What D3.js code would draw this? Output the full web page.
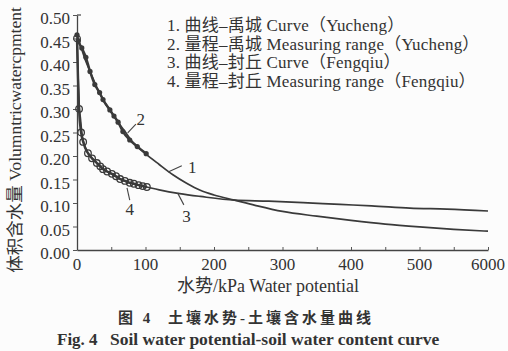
<!DOCTYPE html>
<html>
<head>
<meta charset="utf-8">
<script src="https://cdn.jsdelivr.net/npm/d3@7"></script>
<style>
  body { margin: 0; background: #fcfcfc; }
</style>
</head>
<body>
<div id="chart_container"></div>
<script>
// values
const curve1_x = [0, 5, 12, 20, 30, 40, 50, 60, 70, 80, 90, 100, 120, 140, 160, 180, 200, 230, 260, 300, 350, 400, 450, 500, 550, 600];
const curve1_y = [0.455, 0.435, 0.405, 0.377, 0.342, 0.315, 0.293, 0.272, 0.252, 0.232, 0.218, 0.205, 0.182, 0.160, 0.142, 0.127, 0.117, 0.106, 0.095, 0.082, 0.072, 0.063, 0.055, 0.049, 0.044, 0.040];

const range1_x = [0, 2, 7, 13, 19, 26, 33, 38, 48, 54, 60, 67, 77, 88, 101];
const range1_y = [0.458, 0.445, 0.430, 0.410, 0.380, 0.352, 0.335, 0.320, 0.298, 0.285, 0.272, 0.252, 0.234, 0.220, 0.205];

const curve3_x = [0, 1, 2, 3, 5, 7, 10, 16, 22, 29, 38, 50, 63, 77, 90, 102, 120, 150, 180, 230, 280, 330, 384, 430, 486, 540, 600];
const curve3_y = [0.450, 0.400, 0.350, 0.310, 0.280, 0.250, 0.228, 0.206, 0.195, 0.185, 0.172, 0.162, 0.151, 0.143, 0.138, 0.134, 0.128, 0.120, 0.114, 0.106, 0.104, 0.101, 0.097, 0.094, 0.089, 0.087, 0.083];

const range3_x = [0, 3, 6, 9, 16, 22, 29, 34, 38, 44, 51, 57, 63, 70, 77, 83, 90, 96, 102];
const range3_y = [0.450, 0.300, 0.250, 0.230, 0.206, 0.195, 0.185, 0.178, 0.172, 0.167, 0.162, 0.157, 0.151, 0.147, 0.143, 0.141, 0.138, 0.136, 0.134];

const x_ticks = [0, 100, 200, 300, 400, 500, 600];
const x_tick_labels = ["0", "100", "200", "300", "400", "500", "6000"];
const y_ticks = [0, 0.05, 0.10, 0.15, 0.20, 0.25, 0.30, 0.35, 0.40, 0.45, 0.50];

const legend_labels = [
    "1. 曲线–禹城 Curve（Yucheng）",
    "2. 量程–禹城 Measuring range（Yucheng）",
    "3. 曲线–封丘 Curve（Fengqiu）",
    "4. 量程–封丘 Measuring range（Fengqiu）"
];

// curve callouts: leader from curve point to label, in data units
const callout_names = ["1", "2", "3", "4"];
const callout_from = [[133, 0.166], [74, 0.249], [147, 0.121], [73, 0.132]];
const callout_to = [[153, 0.179], [86, 0.268], [156, 0.096], [77, 0.106]];
const callout_text = [[162, 0.164], [93, 0.265], [160, 0.059], [77, 0.075]];

const FONT = '"Liberation Serif", "Noto Sans CJK SC", serif';

const margin = { top: 15, right: 20, bottom: 101, left: 77 },
    svg_width = 508, svg_height = 351,
    plot_width = svg_width - margin.left - margin.right,
    plot_height = svg_height - margin.top - margin.bottom;

const svg = d3.select("#chart_container")
    .append("svg")
    .attr("width", svg_width)
    .attr("height", svg_height);

const g = svg.append("g")
    .attr("transform", `translate(${margin.left}, ${margin.top})`);

const x = d3.scaleLinear().domain([0, 600]).range([0, plot_width]);
const y = d3.scaleLinear().domain([0, 0.5]).range([plot_height, 0]);

// X axis: small inward ticks every 50, labels every 100
const xAxis = g.append("g")
    .attr("transform", `translate(0, ${plot_height})`)
    .call(d3.axisBottom(x).tickValues(d3.range(0, 601, 50)).tickSizeInner(-3).tickSizeOuter(0).tickFormat(""));
xAxis.select(".domain").attr("stroke", "#444").attr("stroke-width", 1.3);
xAxis.selectAll(".tick line").attr("stroke", "#555");

g.selectAll(".xlabel")
    .data(x_ticks)
    .enter()
    .append("text")
    .attr("x", d => x(d))
    .attr("y", plot_height + 20)
    .attr("text-anchor", "middle")
    .style("font-size", "17px")
    .text((d, i) => x_tick_labels[i]);

// Y axis
const yAxis = g.append("g")
    .call(d3.axisLeft(y).tickValues(y_ticks).tickSizeInner(4).tickSizeOuter(0).tickFormat(d3.format(".2f")));
yAxis.attr("font-family", null);
yAxis.select(".domain").attr("stroke", "#444").attr("stroke-width", 1.3);
yAxis.selectAll(".tick line").attr("stroke", "#555");
yAxis.selectAll("text")
    .style("font-size", "17px")
    .attr("x", -7)
    .attr("dy", "0.5em");
g.append("line")
    .attr("x1", 0).attr("x2", 4)
    .attr("y1", y(0.5)).attr("y2", y(0.5))
    .attr("stroke", "#444").attr("stroke-width", 1.2);

const line = d3.line()
    .x(d => x(d[0]))
    .y(d => y(d[1]))
    .curve(d3.curveMonotoneX);

function drawSeries(xs, ys, width) {
    g.append("path")
        .datum(xs.map((v, i) => [v, ys[i]]))
        .attr("d", line)
        .attr("fill", "none")
        .attr("stroke", "#3a3a3a")
        .attr("stroke-width", width);
}

drawSeries(curve1_x, curve1_y, 1.7);
drawSeries(curve3_x, curve3_y, 1.7);
drawSeries(range1_x, range1_y, 2.4);
drawSeries(range3_x, range3_y, 2.4);

g.selectAll(".m2")
    .data(range1_x.map((v, i) => [v, range1_y[i]]))
    .enter()
    .append("circle")
    .attr("cx", d => x(d[0]))
    .attr("cy", d => y(d[1]))
    .attr("r", 2.6)
    .attr("fill", "#3a3a3a");

g.selectAll(".m4")
    .data(range3_x.map((v, i) => [v, range3_y[i]]))
    .enter()
    .append("circle")
    .attr("cx", d => x(d[0]))
    .attr("cy", d => y(d[1]))
    .attr("r", 3.3)
    .attr("fill", "none")
    .attr("stroke", "#3a3a3a")
    .attr("stroke-width", 1.3);

// callouts
callout_names.forEach(function (name, i) {
    g.append("line")
        .attr("x1", x(callout_from[i][0])).attr("y1", y(callout_from[i][1]))
        .attr("x2", x(callout_to[i][0])).attr("y2", y(callout_to[i][1]))
        .attr("stroke", "#444")
        .attr("stroke-width", 1.1);
    g.append("text")
        .attr("x", x(callout_text[i][0]))
        .attr("y", y(callout_text[i][1]))
        .attr("text-anchor", name === "1" ? "start" : "middle")
        .style("font-size", "17px")
        .text(name);
});

// legend
svg.selectAll(".legend")
    .data(legend_labels)
    .enter()
    .append("text")
    .attr("x", 167)
    .attr("y", (d, i) => 31 + i * 18.5)
    .style("font-size", "17px")
    .style("letter-spacing", "0.2px")
    .text(d => d);

// axis titles
svg.append("text")
    .attr("transform", "translate(21, 140) rotate(-90)")
    .attr("text-anchor", "middle")
    .style("font-size", "17.5px")
    .text("体积含水量 Volumntricwatercpmtent");

svg.append("text")
    .attr("x", 268)
    .attr("y", 292)
    .attr("text-anchor", "middle")
    .style("font-size", "18px")
    .text("水势/kPa Water potential");

// caption
svg.append("text")
    .attr("x", 118)
    .attr("y", 323)
    .style("font-size", "15px")
    .style("font-weight", "700")
    .style("letter-spacing", "3px")
    .text("图 4");

svg.append("text")
    .attr("x", 168)
    .attr("y", 323)
    .style("font-size", "15px")
    .style("font-weight", "700")
    .style("letter-spacing", "3px")
    .text("土壤水势-土壤含水量曲线");

svg.append("text")
    .attr("x", 57)
    .attr("y", 345)
    .style("font-size", "17px")
    .style("font-weight", "700")
    .text("Fig. 4");

svg.append("text")
    .attr("x", 110)
    .attr("y", 345)
    .style("font-size", "17.5px")
    .style("font-weight", "700")
    .text("Soil water potential-soil water content curve");

// same serif face and ink colour on every label
svg.selectAll("text")
    .style("font-family", FONT)
    .attr("fill", "#333");
</script>
</body>
</html>
